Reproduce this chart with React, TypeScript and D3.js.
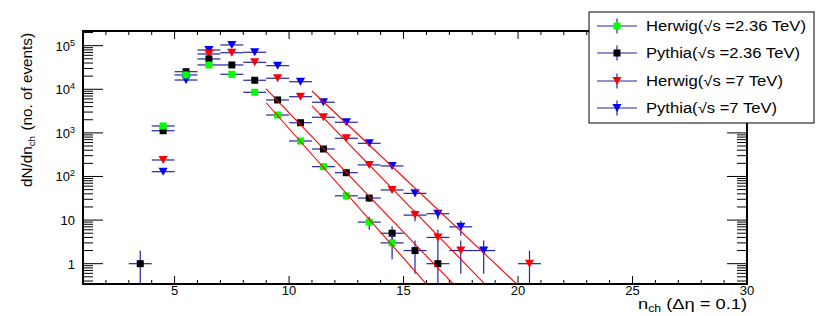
import React from 'react';
import * as d3 from 'd3';

const WIDTH = 830;
const HEIGHT = 316;
const FRAME = { left: 83, right: 747, top: 31, bottom: 284 };
const FONT = '"Liberation Sans", Arial, Helvetica, sans-serif';
const ERR_COLOR = '#2424a4';

// bin centres (n_ch), bin width 1
const binCenters = [3.5, 4.5, 5.5, 6.5, 7.5, 8.5, 9.5, 10.5, 11.5, 12.5, 13.5, 14.5, 15.5, 16.5, 17.5, 18.5, 19.5, 20.5];

// events per bin (null = empty bin)
const herwig236 = [null, 1440, 21300, 36100, 22100, 8530, 2570, 652, 168, 36, 9, 3, null, null, null, null, null, null];
const pythia236 = [1, 1120, 25300, 49600, 36100, 16100, 5690, 1710, 427, 122, 32, 5, 2, 1, null, null, null, null];
const herwig7 = [null, 239, null, 64500, 69000, 41600, 17900, 6760, 2280, 752, 184, 49, 13, 4, 2, null, null, 1];
const pythia7 = [null, 129, 16300, 79600, 103800, 70600, 34800, 14900, 5040, 1750, 577, 174, 41, 14, 7, 2, null, null];

// exponential fits: start / end point of each line
const fitX0 = [9.0, 9.0, 11.0, 11.0];
const fitY0 = [4910, 10250, 4170, 9140];
const fitX1 = [16.0, 17.2, 18.6, 20.0];
const fitY1 = [0.34, 0.33, 0.32, 0.32];

const yTickLabels = [
  { v: 1, base: '1', exp: '' },
  { v: 10, base: '10', exp: '' },
  { v: 100, base: '10', exp: '2' },
  { v: 1000, base: '10', exp: '3' },
  { v: 10000, base: '10', exp: '4' },
  { v: 100000, base: '10', exp: '5' },
];
const xTickLabels = [5, 10, 15, 20, 25, 30];

type Series = { name: string; energy: string; values: (number | null)[]; color: string; marker: 'square' | 'triangle'; textW: number };

const series: Series[] = [
  { name: 'Herwig', energy: '2.36 TeV', values: herwig236, color: '#00ff00', marker: 'square', textW: 160 },
  { name: 'Pythia', energy: '2.36 TeV', values: pythia236, color: '#000000', marker: 'square', textW: 154 },
  { name: 'Herwig', energy: '7 TeV', values: herwig7, color: '#ff0000', marker: 'triangle', textW: 137 },
  { name: 'Pythia', energy: '7 TeV', values: pythia7, color: '#0000ff', marker: 'triangle', textW: 131 },
];

const Marker = ({ x, y, kind, color }: { x: number; y: number; kind: string; color: string }) =>
  kind === 'square' ? (
    <rect x={x - 3.5} y={y - 3.5} width={7} height={7} fill={color} />
  ) : (
    <path d={`M${x - 4.6},${y - 4} L${x + 4.6},${y - 4} L${x},${y + 4} Z`} fill={color} />
  );

export default function App() {
  const x = d3.scaleLinear().domain([1, 30]).range([FRAME.left, FRAME.right]);
  const y = d3.scaleLog().domain([0.342, 2.17e5]).range([FRAME.bottom, FRAME.top]);

  const xTicks = d3.range(2, 30);
  const yTicks = y.ticks().filter(t => t >= 0.342 && t <= 2.17e5);
  const isDecade = (t: number) => Math.abs(Math.log10(t) - Math.round(Math.log10(t))) < 1e-6;

  const line = d3.line<[number, number]>().x(d => x(d[0])).y(d => y(d[1]));

  // legend layout
  const lg = { x: 589, y: 12, w: 225, h: 111 };
  const rows = [26, 53, 81, 108];

  return (
    <svg width={WIDTH} height={HEIGHT} style={{ position: 'absolute', left: 0, top: 0, background: '#fff' }} fontFamily={FONT}>
      <defs>
        <clipPath id="plot">
          <rect x={FRAME.left} y={FRAME.top} width={FRAME.right - FRAME.left} height={FRAME.bottom - FRAME.top} />
        </clipPath>
      </defs>

      {/* data */}
      <g clipPath="url(#plot)">
        {[...series].reverse().map((s, si) => (
          <g key={si}>
            {s.values.map((v, i) => {
              if (v == null) return null;
              const cx = x(binCenters[i]);
              const cy = y(v);
              const err = Math.sqrt(v);
              const lo = v - err > 0 ? y(v - err) : FRAME.bottom + 2;
              return (
                <g key={i}>
                  <line x1={x(binCenters[i] - 0.5)} x2={x(binCenters[i] + 0.5)} y1={cy} y2={cy} stroke={ERR_COLOR} strokeWidth={1.2} />
                  <line x1={cx} x2={cx} y1={y(v + err)} y2={lo} stroke={ERR_COLOR} strokeWidth={1.2} />
                </g>
              );
            })}
            {s.values.map((v, i) =>
              v == null ? null : <Marker key={'m' + i} x={x(binCenters[i])} y={y(v)} kind={s.marker} color={s.color} />
            )}
          </g>
        ))}
        {fitX0.map((x0, i) => (
          <path key={i} d={line([[x0, fitY0[i]], [fitX1[i], fitY1[i]]]) || ''} stroke="#ff0000" strokeWidth={1.1} fill="none" />
        ))}
      </g>

      {/* frame */}
      <rect x={FRAME.left} y={FRAME.top} width={FRAME.right - FRAME.left} height={FRAME.bottom - FRAME.top} fill="none" stroke="#000" strokeWidth={2} />

      {/* x ticks bottom and top */}
      {xTicks.map(t => {
        const len = t % 5 === 0 ? 8 : 4;
        return (
          <g key={t} stroke="#000" strokeWidth={1}>
            <line x1={x(t)} x2={x(t)} y1={FRAME.bottom} y2={FRAME.bottom - len} />
            <line x1={x(t)} x2={x(t)} y1={FRAME.top} y2={FRAME.top + len} />
          </g>
        );
      })}
      {xTickLabels.map(t => (
        <text key={t} x={x(t)} y={295} fontSize={13} textAnchor="middle">{t}</text>
      ))}

      {/* y ticks left and right */}
      {yTicks.map((t, i) => {
        const len = isDecade(t) ? 20 : 10;
        return (
          <g key={i} stroke="#000" strokeWidth={1}>
            <line x1={FRAME.left} x2={FRAME.left + len} y1={y(t)} y2={y(t)} />
            <line x1={FRAME.right} x2={FRAME.right - len} y1={y(t)} y2={y(t)} />
          </g>
        );
      })}
      {yTickLabels.map(t => (
        <text key={t.v} x={75} y={y(t.v) + 5} fontSize={13} textAnchor="end">
          {t.base}
          {t.exp && <tspan dy={-5} fontSize={9}>{t.exp}</tspan>}
        </text>
      ))}

      {/* axis titles */}
      <text transform={`translate(32,${FRAME.top + 2}) rotate(-90)`} fontSize={14} textAnchor="end" textLength={154} lengthAdjust="spacingAndGlyphs">
        dN/dn<tspan dy={3} fontSize={9}>ch</tspan><tspan dy={-3} dx={5}>(no. of events)</tspan>
      </text>
      <text x={FRAME.right} y={309} fontSize={15} textAnchor="end" textLength={109} lengthAdjust="spacingAndGlyphs">
        n<tspan dy={3} fontSize={10}>ch</tspan><tspan dy={-3}> (Δη = 0.1)</tspan>
      </text>

      {/* legend */}
      <rect x={lg.x} y={lg.y} width={lg.w} height={lg.h} fill="#fff" stroke="#000" strokeWidth={1} />
      {series.map((s, i) => (
        <g key={i}>
          <line x1={597} x2={637} y1={rows[i]} y2={rows[i]} stroke={ERR_COLOR} strokeWidth={1.2} />
          <line x1={617} x2={617} y1={rows[i] - 7.5} y2={rows[i] + 7.5} stroke={ERR_COLOR} strokeWidth={1.2} />
          <Marker x={617} y={rows[i]} kind={s.marker} color={s.color} />
          <text x={646} y={rows[i] + 5} fontSize={14} textLength={s.textW} lengthAdjust="spacingAndGlyphs">
            {s.name}(√s ={s.energy})
          </text>
        </g>
      ))}
    </svg>
  );
}
